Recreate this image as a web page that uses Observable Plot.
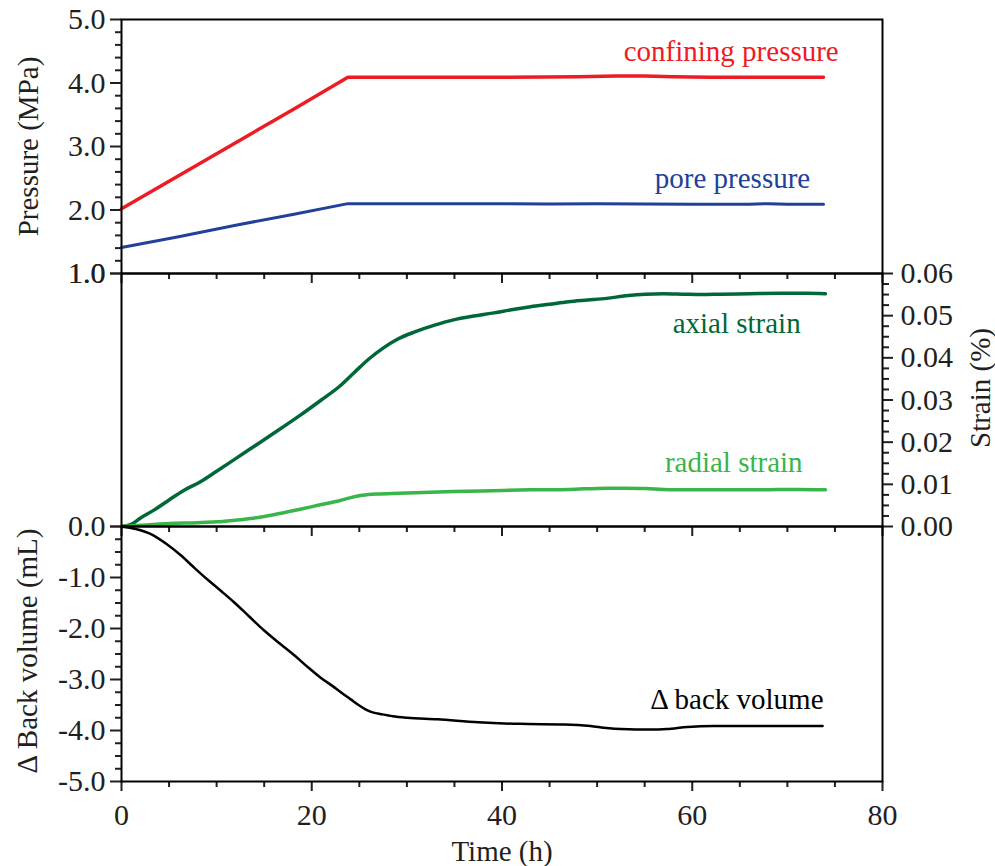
<!DOCTYPE html>
<html><head><meta charset="utf-8">
<script src="https://cdn.jsdelivr.net/npm/d3@7"></script>
<script src="https://cdn.jsdelivr.net/npm/@observablehq/plot@0.6"></script>
<style>
body{margin:0;background:#fff;}
#chart{position:relative;width:995px;height:866px;}
#chart svg{position:absolute;left:0;top:0;}
</style></head><body><div id="chart"></div>
<script>
// ---- tick values & labels ----
const timeTicks = [0, 20, 40, 60, 80];
const timeTickLabels = ["0", "20", "40", "60", "80"];
const timeMinor = [5, 10, 15, 25, 30, 35, 45, 50, 55, 65, 70, 75];

const pressureTicks = [1, 2, 3, 4, 5];
const pressureTickLabels = ["1.0", "2.0", "3.0", "4.0", "5.0"];
const pressureMinor = [1.2, 1.4, 1.6, 1.8, 2.2, 2.4, 2.6, 2.8, 3.2, 3.4, 3.6, 3.8, 4.2, 4.4, 4.6, 4.8];

const midLeftTicks = [0, 1];
const midLeftTickLabels = ["0.0", "1.0"];

const strainTicks = [0, 0.01, 0.02, 0.03, 0.04, 0.05, 0.06];
const strainTickLabels = ["0.00", "0.01", "0.02", "0.03", "0.04", "0.05", "0.06"];
const strainMinor = [0.0025, 0.005, 0.0075, 0.0125, 0.015, 0.0175, 0.0225, 0.025, 0.0275,
  0.0325, 0.035, 0.0375, 0.0425, 0.045, 0.0475, 0.0525, 0.055, 0.0575];

const volumeTicks = [0, -1, -2, -3, -4, -5];
const volumeTickLabels = ["", "-1.0", "-2.0", "-3.0", "-4.0", "-5.0"];
const volumeMinor = [-0.25, -0.5, -0.75, -1.25, -1.5, -1.75, -2.25, -2.5, -2.75,
  -3.25, -3.5, -3.75, -4.25, -4.5, -4.75];

// ---- series ----
const confTime = [0, 6, 12, 18, 23.8, 24.5, 30, 40, 48, 52, 55, 58, 62, 70, 73.8];
const confPressure = [2.02, 2.54, 3.06, 3.58, 4.09, 4.09, 4.09, 4.09, 4.10, 4.11, 4.11, 4.10, 4.09, 4.09, 4.09];

const poreTime = [0, 6, 12, 18, 23.8, 30, 40, 45, 50, 60, 66, 68, 70, 73.8];
const porePressure = [1.41, 1.58, 1.76, 1.93, 2.10, 2.10, 2.10, 2.095, 2.10, 2.09, 2.09, 2.10, 2.09, 2.09];

const axialTime = [0, 1, 2, 3.5, 5, 6.5, 8.3, 10, 12, 14, 16, 18.8, 21, 22.9, 24.5, 26.1, 27.5, 29, 30.9, 33, 34.9, 37, 39, 41, 43, 45, 47, 49, 51, 53, 55.1, 57, 59, 61, 63, 66, 69.2, 72, 74];
const axialStrain = [0, 0.0005, 0.002, 0.004, 0.0063, 0.0085, 0.0106, 0.0131, 0.0161, 0.0191, 0.0221, 0.0264, 0.0300, 0.0332, 0.0366, 0.0399, 0.0423, 0.0444, 0.0462, 0.0478, 0.0490, 0.0499, 0.0506, 0.0514, 0.0521, 0.0527, 0.0533, 0.0537, 0.0541, 0.0547, 0.0551, 0.0552, 0.0551, 0.0550, 0.0551, 0.0552, 0.0553, 0.0553, 0.0552];

const radialTime = [0, 2, 5, 8, 10, 12, 13.6, 16, 18.8, 21, 22.9, 24, 25.3, 26.8, 28.5, 30.9, 34.9, 39, 43, 47, 51, 53, 55.1, 57, 59.1, 63, 67, 71, 74];
const radialStrain = [0, 0.0003, 0.0007, 0.0009, 0.0011, 0.0015, 0.0019, 0.0028, 0.0041, 0.0052, 0.0061, 0.0068, 0.0074, 0.0077, 0.0078, 0.0080, 0.0083, 0.0085, 0.0087, 0.0088, 0.0091, 0.0091, 0.0090, 0.0088, 0.0087, 0.0087, 0.0087, 0.0088, 0.0087];

const volumeTime = [0, 1.5, 3.2, 4.7, 6.2, 7.6, 9.1, 10.5, 11.8, 13.4, 15.0, 16.6, 18.2, 19.6, 20.9, 22.2, 23.2, 24.1, 25.0, 25.7, 26.5, 27.3, 28.5, 30.0, 33.2, 37.5, 41.8, 46.6, 49.3, 51, 52.5, 55.7, 57.3, 59.5, 62.2, 67.5, 73.7];
const backVolume = [0, -0.05, -0.16, -0.34, -0.56, -0.80, -1.05, -1.27, -1.48, -1.76, -2.04, -2.29, -2.53, -2.76, -2.96, -3.13, -3.27, -3.39, -3.51, -3.59, -3.65, -3.68, -3.72, -3.75, -3.78, -3.84, -3.87, -3.88, -3.91, -3.95, -3.97, -3.98, -3.97, -3.93, -3.91, -3.91, -3.91];

// ---- styling / layout ----
const W = 995, H = 866, ML = 121, MR = 113;
const FONT = "'Liberation Serif', 'Times New Roman', serif";
const INK = "#231f20";
const RED = "#ed1c24", BLUE = "#21409a", DKGREEN = "#006838", LTGREEN = "#39b54a";
const TICK_FS = 30, LABEL_FS = 29;

const fmt = (vals, labels) => d => labels[vals.indexOf(d)];
const blank = () => "";

function layer(top, bottom, yDomain, marks) {
  const svg = Plot.plot({
    width: W, height: H,
    marginLeft: ML, marginRight: MR, marginTop: top, marginBottom: H - bottom,
    x: {domain: [0, 80], axis: null},
    y: {domain: yDomain, axis: null},
    style: {fontFamily: FONT, fontSize: TICK_FS + "px", background: "transparent", overflow: "visible", color: INK},
    marks
  });
  document.getElementById("chart").appendChild(svg);
}

function xTicks(labelled) {
  return [
    Plot.axisX(timeMinor, {anchor: "bottom", tickSize: 6, strokeWidth: 2, tickFormat: blank, label: null}),
    Plot.axisX(timeTicks, {anchor: "bottom", tickSize: 10, strokeWidth: 2, tickPadding: 12,
      tickFormat: labelled ? fmt(timeTicks, timeTickLabels) : blank, label: null, fontSize: TICK_FS})
  ];
}

const titleOpts = {fill: INK, fontSize: LABEL_FS, textAnchor: "middle", lineAnchor: "middle"};

// Top panel: pressure
layer(19, 273, [1, 5], [
  ...xTicks(false),
  Plot.axisY(pressureMinor, {anchor: "left", tickSize: 6, strokeWidth: 2, tickFormat: blank, label: null}),
  Plot.axisY(pressureTicks, {anchor: "left", tickSize: 11, strokeWidth: 2, tickPadding: 5,
    tickFormat: fmt(pressureTicks, pressureTickLabels), label: null, fontSize: TICK_FS}),
  Plot.line(confPressure, {x: confTime, y: confPressure, stroke: RED, strokeWidth: 3.5}),
  Plot.line(porePressure, {x: poreTime, y: porePressure, stroke: BLUE, strokeWidth: 3}),
  Plot.text(["confining pressure"], {x: [75.4], y: [4.49], textAnchor: "end", fill: RED, fontSize: LABEL_FS}),
  Plot.text(["pore pressure"], {x: [72.4], y: [2.50], textAnchor: "end", fill: BLUE, fontSize: LABEL_FS}),
  Plot.text(["Pressure (MPa)"], {...titleOpts, frameAnchor: "left", dx: -93, rotate: -90}),
  Plot.frame({stroke: "black", strokeWidth: 2})
]);

// Middle panel: left axis 0..1
layer(273, 526, [0, 1], [
  Plot.axisY(midLeftTicks, {anchor: "left", tickSize: 11, strokeWidth: 2, tickPadding: 5,
    tickFormat: fmt(midLeftTicks, midLeftTickLabels), label: null, fontSize: TICK_FS})
]);

// Middle panel: strain
layer(273, 526, [0, 0.06], [
  ...xTicks(false),
  Plot.axisY(strainMinor, {anchor: "right", tickSize: 6, strokeWidth: 2, tickFormat: blank, label: null}),
  Plot.axisY(strainTicks, {anchor: "right", tickSize: 10, strokeWidth: 2, tickPadding: 8,
    tickFormat: fmt(strainTicks, strainTickLabels), label: null, fontSize: TICK_FS}),
  Plot.line(axialStrain, {x: axialTime, y: axialStrain, stroke: DKGREEN, strokeWidth: 3.5, curve: "monotone-x"}),
  Plot.line(radialStrain, {x: radialTime, y: radialStrain, stroke: LTGREEN, strokeWidth: 3.5, curve: "monotone-x"}),
  Plot.text(["axial strain"], {x: [71.4], y: [0.0480], textAnchor: "end", fill: DKGREEN, fontSize: LABEL_FS}),
  Plot.text(["radial strain"], {x: [71.6], y: [0.0152], textAnchor: "end", fill: LTGREEN, fontSize: LABEL_FS}),
  Plot.text(["Strain (%)"], {...titleOpts, frameAnchor: "right", dx: 98, dy: -12, rotate: -90}),
  Plot.frame({stroke: "black", strokeWidth: 2})
]);

// Bottom panel: back volume
layer(526, 781, [-5, 0], [
  ...xTicks(true),
  Plot.axisY(volumeMinor, {anchor: "left", tickSize: 6, strokeWidth: 2, tickFormat: blank, label: null}),
  Plot.axisY(volumeTicks, {anchor: "left", tickSize: 11, strokeWidth: 2, tickPadding: 5,
    tickFormat: fmt(volumeTicks, volumeTickLabels), label: null, fontSize: TICK_FS}),
  Plot.line(backVolume, {x: volumeTime, y: backVolume, stroke: "black", strokeWidth: 2.5, curve: "monotone-x"}),
  Plot.text(["\u0394 back volume"], {x: [73.8], y: [-3.39], textAnchor: "end", fill: "black", fontSize: LABEL_FS}),
  Plot.text(["\u0394 Back volume (mL)"], {...titleOpts, frameAnchor: "left", dx: -94, dy: -3, rotate: -90}),
  Plot.text(["Time (h)"], {...titleOpts, frameAnchor: "bottom", dy: 70}),
  Plot.frame({stroke: "black", strokeWidth: 2})
]);
</script>
</body></html>
